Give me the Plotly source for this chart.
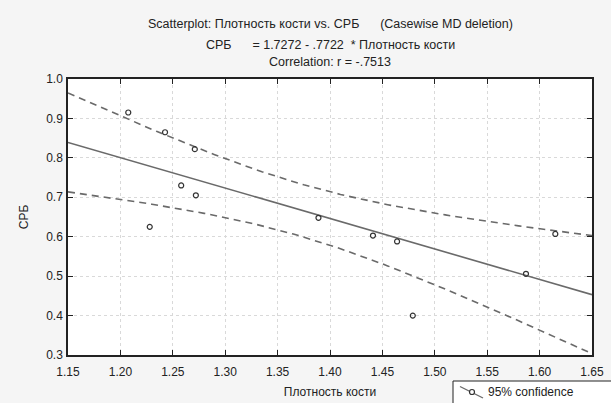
import numpy as np
import plotly.graph_objects as go

# ---- data ----
bone_density = [1.2075, 1.2426, 1.271, 1.258, 1.272, 1.228, 1.389, 1.441, 1.464, 1.479, 1.587, 1.615]
crp = [0.915, 0.865, 0.822, 0.730, 0.705, 0.625, 0.648, 0.603, 0.588, 0.400, 0.506, 0.607]

intercept = 1.7272
slope = -0.7722
t_crit = 2.228  # t(0.975, df=10)

x_range = [1.15, 1.65]
y_range = [0.3, 1.0]
x_ticks = [1.15, 1.20, 1.25, 1.30, 1.35, 1.40, 1.45, 1.50, 1.55, 1.60, 1.65]
y_ticks = [0.3, 0.4, 0.5, 0.6, 0.7, 0.8, 0.9, 1.0]

title_lines = [
    "Scatterplot: Плотность кости vs. СРБ      (Casewise MD deletion)",
    "СРБ      = 1.7272 - .7722  * Плотность кости",
    "Correlation: r = -.7513",
]
x_title = "Плотность кости"
y_title = "СРБ"
legend_label = "95% confidence"

# ---- regression and confidence band derived from data ----
xa = np.array(bone_density)
ya = np.array(crp)
n = len(xa)
resid = ya - (intercept + slope * xa)
s = np.sqrt(np.sum(resid ** 2) / (n - 2))
xm = xa.mean()
sxx = np.sum((xa - xm) ** 2)
xf = np.linspace(x_range[0], x_range[1], 101)
yf = intercept + slope * xf
hw = t_crit * s * np.sqrt(1.0 / n + (xf - xm) ** 2 / sxx)

GRAY = "#6a6a6a"
DARK = "#222222"
FONT = "Liberation Sans, Arial, sans-serif"

W, H = 611, 403
ML, MR, MT, MB = 68, 19, 79, 48
PW, PH = W - ML - MR, H - MT - MB


def px(xp):
    return (xp - ML) / PW


def py(yp):
    return (H - MB - yp) / PH


fig = go.Figure()
fig.add_trace(go.Scatter(x=xf, y=yf + hw, mode="lines",
                         line=dict(color=GRAY, width=1.6, dash="7px,5px"),
                         showlegend=False, hoverinfo="skip"))
fig.add_trace(go.Scatter(x=xf, y=yf - hw, mode="lines",
                         line=dict(color=GRAY, width=1.6, dash="7px,5px"),
                         showlegend=False, hoverinfo="skip"))
fig.add_trace(go.Scatter(x=xf, y=yf, mode="lines",
                         line=dict(color=GRAY, width=1.6),
                         showlegend=False, hoverinfo="skip"))
fig.add_trace(go.Scatter(x=bone_density, y=crp, mode="markers",
                         marker=dict(symbol="circle-open", size=5,
                                     color="#333333", line=dict(width=1.2)),
                         showlegend=False))

axis_common = dict(
    showline=True, linecolor=DARK, linewidth=1.5, mirror="ticks",
    ticks="inside", ticklen=5, tickcolor=DARK,
    showgrid=True, gridcolor="#d9d9d9", griddash="dot", gridwidth=1,
    zeroline=False, tickfont=dict(size=12, color=DARK, family=FONT),
)

fig.update_xaxes(range=x_range, tickvals=x_ticks, tickformat=".2f",
                 ticklabelstandoff=5,
                 title=dict(text=x_title, font=dict(size=12, color=DARK), standoff=9),
                 **axis_common)
fig.update_yaxes(range=y_range, tickvals=y_ticks, tickformat=".1f",
                 ticklabelstandoff=1,
                 title=dict(text=y_title, font=dict(size=12, color=DARK), standoff=15),
                 **axis_common)

annotations = []
for i, (line, shift) in enumerate(zip(title_lines, [55, 34, 17])):
    annotations.append(dict(text=line, xref="paper", yref="paper",
                            x=0.5, y=1.0, yshift=shift,
                            xanchor="center", yanchor="middle", showarrow=False,
                            font=dict(size=12.5, color=DARK, family=FONT)))

# hand-drawn legend box (decoration)
annotations.append(dict(text=legend_label, xref="paper", yref="paper",
                        x=px(486), y=py(392), xanchor="left", yanchor="middle",
                        showarrow=False, font=dict(size=12, color=DARK, family=FONT)))
shapes = [
    dict(type="rect", xref="paper", yref="paper", x0=px(453), x1=px(625),
         y0=py(381), y1=py(412), line=dict(color=DARK, width=1),
         fillcolor="#ffffff", layer="above"),
    dict(type="line", xref="paper", yref="paper", x0=px(460), y0=py(386.5),
         x1=px(483), y1=py(398), line=dict(color=GRAY, width=1.3), layer="above"),
    dict(type="circle", xref="paper", yref="paper", x0=px(469.5), x1=px(474.5),
         y0=py(389.5), y1=py(394.5), line=dict(color="#333333", width=1.2),
         fillcolor="#ffffff", layer="above"),
]

fig.update_layout(
    width=W, height=H,
    margin=dict(l=ML, r=MR, t=MT, b=MB, autoexpand=False),
    paper_bgcolor="#f5f5f5", plot_bgcolor="#ffffff",
    font=dict(family=FONT, size=12, color=DARK),
    annotations=annotations,
    shapes=shapes,
    showlegend=False,
)

fig.write_html("out.html", config={"displayModeBar": False},
               post_script="document.body.style.margin='0';document.body.style.overflow='hidden';")
